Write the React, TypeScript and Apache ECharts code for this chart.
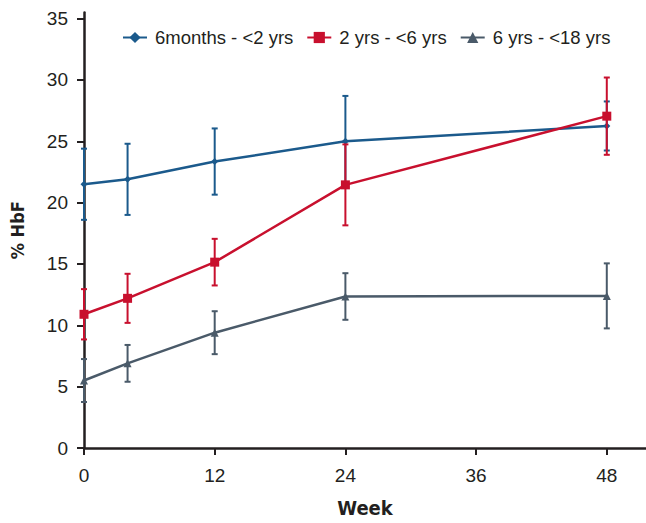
import React, { useEffect, useRef } from "react";
import * as echarts from "echarts";

const weeks = [0, 4, 12, 24, 48];
const seriesNames = ["6months - <2 yrs", "2 yrs - <6 yrs", "6 yrs - <18 yrs"];
const infantMean = [21.5, 21.9, 23.35, 25.0, 26.25];
const infantErr = [2.9, 2.9, 2.7, 3.7, 2.0];
const childMean = [10.9, 12.2, 15.15, 21.45, 27.05];
const childErr = [2.05, 2.0, 1.9, 3.3, 3.15];
const olderMean = [5.5, 6.9, 9.4, 12.35, 12.4];
const olderErr = [1.75, 1.5, 1.75, 1.9, 2.65];
const xTicks = [0, 12, 24, 36, 48];
const yTicks = [0, 5, 10, 15, 20, 25, 30, 35];

const colors = ["#1b5a8c", "#c8102e", "#4a5a69"];
const symbols = ["diamond", "rect", "triangle"];
const symbolSizes = [7, 9, 8];
const axisColor = "#231f20";
const font = "'Liberation Sans', Arial, sans-serif";
const nameFont = "'Liberation Sans Narrow', 'DejaVu Sans Condensed', sans-serif";

export default function App() {
  const ref = useRef<HTMLDivElement>(null);
  useEffect(() => {
    if (!ref.current) return;
    const chart = echarts.init(ref.current, undefined, { renderer: "svg" });
    const means = [infantMean, childMean, olderMean];
    const errs = [infantErr, childErr, olderErr];

    const lineSeries = means.map((m, i) => ({
      name: seriesNames[i],
      type: "line",
      data: weeks.map((w, j) => [w, m[j]]),
      symbol: symbols[i],
      symbolSize: symbolSizes[i],
      showAllSymbol: true,
      lineStyle: { color: colors[i], width: 2.5 },
      itemStyle: { color: colors[i] },
      z: 3 + i,
      clip: false,
    }));

    const errSeries = means.map((m, i) => ({
      name: seriesNames[i] + " err",
      type: "custom",
      clip: false,
      z: 3 + i,
      data: weeks.map((w, j) => [w, m[j] - errs[i][j], m[j] + errs[i][j]]),
      encode: { x: 0, y: [1, 2] },
      renderItem: (params: any, api: any) => {
        const x = api.value(0);
        const top = api.coord([x, api.value(2)]);
        const bot = api.coord([x, api.value(1)]);
        const hw = 3;
        const style = { stroke: colors[i], lineWidth: 2 };
        return {
          type: "group",
          children: [
            { type: "line", shape: { x1: top[0], y1: top[1], x2: bot[0], y2: bot[1] }, style },
            { type: "line", shape: { x1: top[0] - hw, y1: top[1], x2: top[0] + hw, y2: top[1] }, style },
            { type: "line", shape: { x1: bot[0] - hw, y1: bot[1], x2: bot[0] + hw, y2: bot[1] }, style },
          ],
        };
      },
    }));

    chart.setOption({
      animation: false,
      backgroundColor: "#ffffff",
      grid: { left: 84, right: 0, top: 12.5, bottom: 66, containLabel: false },
      legend: {
        data: seriesNames,
        left: 117,
        top: 23,
        itemWidth: 24,
        itemHeight: 14,
        itemGap: 13,
        textStyle: { fontFamily: font, fontSize: 18.5, color: axisColor, padding: [0, 0, 0, 3] },
      },
      xAxis: {
        type: "value",
        min: 0,
        max: 51.6,
        name: "Week",
        nameLocation: "middle",
        nameGap: 50,
        nameTextStyle: { fontFamily: nameFont, fontWeight: "bold", fontSize: 20, color: axisColor },
        splitLine: { show: false },
        axisLine: { lineStyle: { color: axisColor, width: 2.5 } },
        axisTick: { customValues: xTicks, length: 7, lineStyle: { color: axisColor, width: 2 } },
        axisLabel: { customValues: xTicks, margin: 18, fontFamily: font, fontSize: 19, color: axisColor },
      },
      yAxis: {
        type: "value",
        min: 0,
        max: 35.5,
        name: "% HbF",
        nameLocation: "middle",
        nameGap: 58,
        nameTextStyle: { fontFamily: nameFont, fontWeight: "bold", fontSize: 18, color: axisColor },
        splitLine: { show: false },
        axisLine: { show: true, lineStyle: { color: axisColor, width: 2.5 } },
        axisTick: { show: true, customValues: yTicks, length: 7, lineStyle: { color: axisColor, width: 2 } },
        axisLabel: { customValues: yTicks, margin: 16, fontFamily: font, fontSize: 19, color: axisColor },
      },
      series: [...lineSeries, ...errSeries],
    });
    return () => chart.dispose();
  }, []);
  return (
    <div
      ref={ref}
      style={{ position: "absolute", left: 0, top: 0, width: 646, height: 523 }}
    />
  );
}
